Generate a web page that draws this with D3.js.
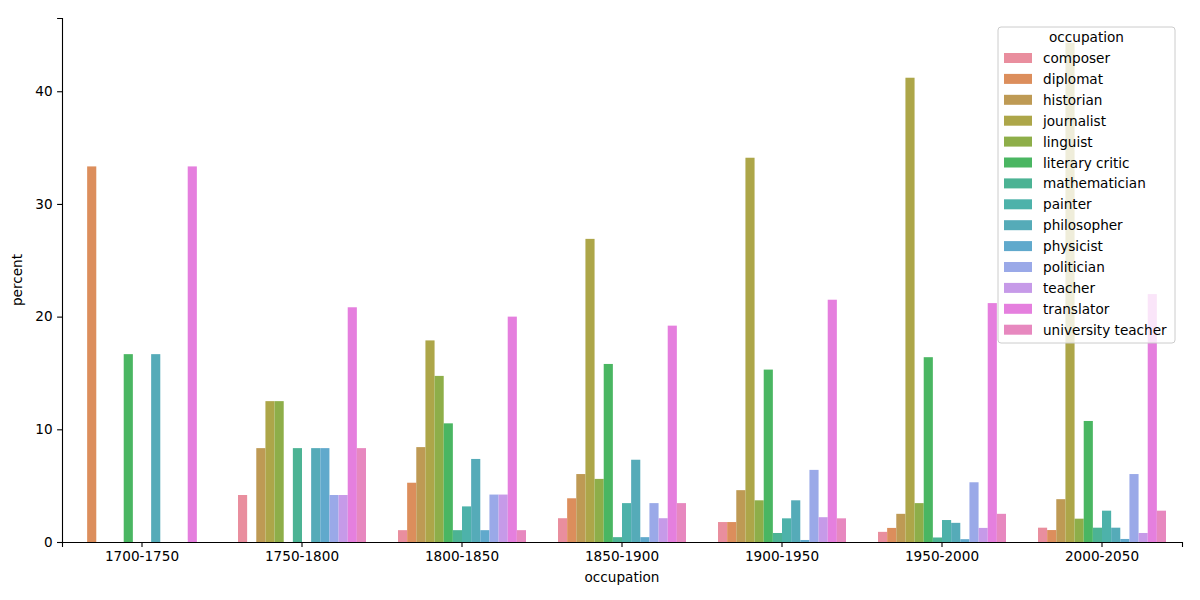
<!DOCTYPE html>
<html>
<head>
<meta charset="utf-8">
<script src="https://cdn.jsdelivr.net/npm/d3@7"></script>
<style>
  body { margin: 0; background: #fff; }
  text { font-family: "DejaVu Sans", sans-serif; fill: #000; }
</style>
</head>
<body>
<div id="chart"></div>
<script>
// periods on the x axis
let periods = ["1700-1750","1750-1800","1800-1850","1850-1900","1900-1950","1950-2000","2000-2050"];
let occupations = ["composer","diplomat","historian","journalist","linguist","literary critic","mathematician",
                   "painter","philosopher","physicist","politician","teacher","translator","university teacher"];

// percent per period, one array per occupation
let composer          = [0,     4.17,  1.05,  2.11,  1.77, 0.9,  1.27];
let diplomat          = [33.33, 0,     5.26,  3.88,  1.77, 1.25, 1.06];
let historian         = [0,     8.33,  8.42,  6.03,  4.6,  2.5,  3.8];
let journalist        = [0,     12.5,  17.89, 26.9,  34.1, 41.2, 44.3];
let linguist          = [0,     12.5,  14.74, 5.6,   3.7,  3.45, 2.07];
let literaryCritic    = [16.67, 0,     10.53, 15.8,  15.3, 16.4, 10.74];
let mathematician     = [0,     8.33,  1.05,  0.43,  0.8,  0.4,  1.27];
let painter           = [0,     0,     3.16,  3.45,  2.1,  1.95, 2.78];
let philosopher       = [16.67, 8.33,  7.37,  7.3,   3.7,  1.7,  1.27];
let physicist         = [0,     8.33,  1.05,  0.43,  0.18, 0.25, 0.27];
let politician        = [0,     4.17,  4.21,  3.45,  6.4,  5.3,  6.03];
let teacher           = [0,     4.17,  4.21,  2.11,  2.2,  1.25, 0.8];
let translator        = [33.33, 20.83, 20.0,  19.2,  21.5, 21.2, 22.0];
let universityTeacher = [0,     8.33,  1.05,  3.45,  2.1,  2.5,  2.78];

let series = [composer, diplomat, historian, journalist, linguist, literaryCritic, mathematician,
              painter, philosopher, physicist, politician, teacher, translator, universityTeacher];

let yTicks = [0, 10, 20, 30, 40];

// husl -> rgb (same as seaborn's husl_palette), then desaturate like barplot does
let huslToRgb = (H, S, L) => {
  let m = [[3.2409699419, -1.5373831776, -0.4986107603],
           [-0.9692436363, 1.8759675015, 0.0415550574],
           [0.0556300797, -0.2039769589, 1.0569715142]];
  let kappa = 903.2962962, eps = 0.0088564516;
  let sub1 = Math.pow(L + 16, 3) / 1560896;
  let sub2 = sub1 > eps ? sub1 : L / kappa;
  let hrad = H / 360 * 2 * Math.PI;
  let maxC = Infinity;
  m.forEach(([m1, m2, m3]) => {
    [0, 1].forEach(t => {
      let top1 = (284517 * m1 - 94839 * m3) * sub2;
      let top2 = (838422 * m3 + 769860 * m2 + 731718 * m1) * L * sub2 - 769860 * t * L;
      let bottom = (632260 * m3 - 126452 * m2) * sub2 + 126452 * t;
      let slope = top1 / bottom, intercept = top2 / bottom;
      let len = intercept / (Math.sin(hrad) - slope * Math.cos(hrad));
      if (len >= 0) maxC = Math.min(maxC, len);
    });
  });
  let C = maxC / 100 * S;
  let U = C * Math.cos(hrad), V = C * Math.sin(hrad);
  let refU = 0.19783000664283, refV = 0.46831999493879;
  let Y = L > 8 ? Math.pow((L + 16) / 116, 3) : L / kappa;
  let vU = U / (13 * L) + refU, vV = V / (13 * L) + refV;
  let X = 0 - (9 * Y * vU) / ((vU - 4) * vV - vU * vV);
  let Z = (9 * Y - 15 * vV * Y - vV * X) / (3 * vV);
  let rgb = m.map(r => {
    let c = r[0] * X + r[1] * Y + r[2] * Z;
    c = c <= 0.0031308 ? 12.92 * c : 1.055 * Math.pow(c, 1 / 2.4) - 0.055;
    return Math.max(0, Math.min(255, c * 255));
  });
  let hsl = d3.hsl(d3.rgb(rgb[0], rgb[1], rgb[2]));
  hsl.s = hsl.s * 0.75;
  hsl.l = hsl.l + (1 - hsl.l) * 0.1;   // reference looks a bit paler
  return hsl.formatHex();
}
let colors = occupations.map((o, i) => huslToRgb(((i / 14 + 0.01) % 1) * 359, 0.9 * 99, 0.65 * 99));

var margin = {top: 18, left: 62},
  width = 1120,
  height = 524;

var svg = d3.select("#chart")
.append("svg")
  .attr("width", 1200)
  .attr("height", 600)
.append("g")
  .attr("transform", "translate(" + margin.left + "," + margin.top + ")");

var x = d3.scaleBand()
  .range([0, width])
  .domain(periods)
  .paddingInner(0.2)
  .paddingOuter(0.1);

var xHue = d3.scaleBand()
  .range([0, x.bandwidth()])
  .domain(occupations)
  .padding(0);

var y = d3.scaleLinear()
  .range([height, 0])
  .domain([0, 46.5]);

let data = [];
series.forEach((vals, j) => {
  vals.forEach((v, i) => {
    data.push({period: periods[i], occupation: occupations[j], value: v, color: colors[j]});
  });
});

svg.selectAll(".bar")
  .data(data)
  .enter()
  .append("rect")
    .attr("class", "bar")
    .attr("x", d => x(d.period) + xHue(d.occupation))
    .attr("y", d => y(d.value))
    .attr("width", xHue.bandwidth())
    .attr("height", d => height - y(d.value))
    .style("fill", d => d.color);

// axes, top and right spines removed like sns.despine()
var xAxis = svg.append("g")
  .attr("transform", "translate(0," + height + ")")
  .call(d3.axisBottom(x).tickSizeOuter(0).tickSize(4.9).tickPadding(4.5));
var yAxis = svg.append("g")
  .call(d3.axisLeft(y).tickValues(yTicks).tickSizeOuter(0).tickSize(4.9).tickPadding(4.5));

[xAxis, yAxis].forEach(a => {
  a.selectAll("text").style("font-size", "13.6px").style("font-family", "DejaVu Sans");
  a.selectAll("line").style("stroke", "#000").style("stroke-width", 1.1);
  a.select(".domain").style("stroke", "#000").style("stroke-width", 1.1);
});

svg.append("text")
  .attr("x", width / 2)
  .attr("y", height + 40)
  .attr("text-anchor", "middle")
  .style("font-size", "13.6px")
  .text("occupation");

svg.append("text")
  .attr("transform", "translate(" + (-40) + "," + (height / 2) + ") rotate(-90)")
  .attr("text-anchor", "middle")
  .style("font-size", "13.6px")
  .text("percent");

// legend
var legend = svg.append("g")
  .attr("transform", "translate(" + (998 - margin.left) + "," + (27 - margin.top) + ")");

legend.append("rect")
  .attr("width", 177)
  .attr("height", 316)
  .attr("rx", 3)
  .style("fill", "#fff")
  .style("fill-opacity", 0.8)
  .style("stroke", "#cccccc")
  .style("stroke-width", 1);

legend.append("text")
  .attr("x", 88.5)
  .attr("y", 15)
  .attr("text-anchor", "middle")
  .style("font-size", "13.6px")
  .text("occupation");

var rows = legend.selectAll(".row")
  .data(occupations)
  .enter()
  .append("g")
    .attr("transform", (d, i) => "translate(0," + (31 + i * 20.9) + ")");

rows.append("rect")
  .attr("x", 6)
  .attr("y", -5)
  .attr("width", 28)
  .attr("height", 10)
  .style("fill", (d, i) => colors[i]);

rows.append("text")
  .attr("x", 45)
  .attr("y", 5)
  .style("font-size", "13.6px")
  .text(d => d);
</script>
</body>
</html>
